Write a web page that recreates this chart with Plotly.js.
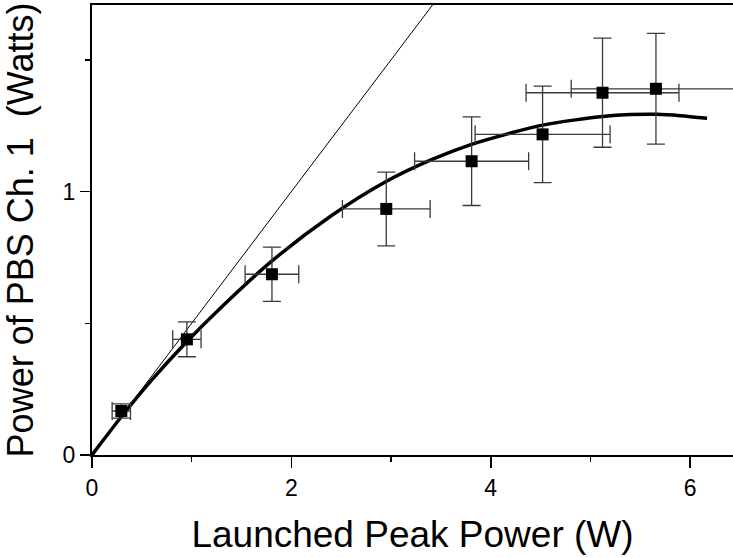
<!DOCTYPE html>
<html>
<head>
<meta charset="utf-8">
<script src="https://cdn.plot.ly/plotly-3.0.1.min.js"></script>
<style>html,body{margin:0;padding:0;background:#fff;}#chart{width:733px;height:558px;}</style>
</head>
<body>
<div id="chart"></div>
<script>
// Measured points
const launchedPower = [0.294, 0.952, 1.805, 2.952, 3.808, 4.52, 5.121, 5.657];
const pbsPower      = [0.167, 0.439, 0.686, 0.934, 1.115, 1.217, 1.375, 1.39];
const errLaunched   = [0.092, 0.142, 0.269, 0.44, 0.572, 0.677, 0.767, 0.85];
const errPbs        = [0.027, 0.066, 0.103, 0.14, 0.168, 0.183, 0.207, 0.21];

// Fit curve
const fitX = [0, 0.3, 0.6, 0.95, 1.3, 1.8, 2.4, 2.95, 3.4, 3.8, 4.2, 4.52, 4.85, 5.12, 5.4, 5.66, 5.9, 6.17];
const fitY = [0, 0.148, 0.285, 0.43, 0.562, 0.735, 0.908, 1.038, 1.12, 1.178, 1.222, 1.252, 1.272, 1.285, 1.292, 1.293, 1.288, 1.278];

// Linear reference line (slope 0.5)
const linX = [0, 3.6];
const linY = [0, 1.8];

// Tick labels
const xTicks = [0, 2, 4, 6];
const xTickText = ['0', '2', '4', '6'];
const xMinor = [1, 3, 5];
const yTicks = [0, 1];
const yTickText = ['0', '1'];
const yMinor = [0.5, 1.5];

const FONT = 'Liberation Sans, Arial, Helvetica, sans-serif';

const traces = [
  {x: linX, y: linY, mode: 'lines', line: {color: '#000', width: 1}, hoverinfo: 'skip'},
  {x: fitX, y: fitY, mode: 'lines', line: {color: '#000', width: 3.5, shape: 'spline', smoothing: 0.8}},
  {x: launchedPower, y: pbsPower, mode: 'markers',
   marker: {symbol: 'square', size: 12, color: '#000'},
   error_x: {type: 'data', array: errLaunched, visible: true, color: '#3a3a3a', thickness: 1.3, width: 9},
   error_y: {type: 'data', array: errPbs, visible: true, color: '#3a3a3a', thickness: 1.3, width: 9}}
];

const layout = {
  width: 733, height: 558,
  margin: {l: 92, r: 0, t: 5, b: 103},
  paper_bgcolor: '#fff', plot_bgcolor: '#fff',
  showlegend: false,
  font: {family: FONT, color: '#000'},
  xaxis: {
    range: [0, 6.43], showgrid: false, zeroline: false,
    showline: true, linecolor: '#000', linewidth: 2, mirror: true,
    ticks: 'outside', ticklen: 11, tickwidth: 1.5, tickcolor: '#000',
    tickvals: xTicks, ticktext: xTickText,
    minor: {tickvals: xMinor, ticks: 'outside', ticklen: 5, tickwidth: 1.5, tickcolor: '#000'},
    tickfont: {size: 23, family: FONT},
    title: {text: 'Launched Peak Power (W)', font: {size: 37, family: FONT}, standoff: 22}
  },
  yaxis: {
    range: [0, 1.708], showgrid: false, zeroline: false,
    showline: true, linecolor: '#000', linewidth: 2, mirror: false,
    ticks: 'outside', ticklen: 10, tickwidth: 1.5, tickcolor: '#000',
    tickvals: yTicks, ticktext: yTickText,
    minor: {tickvals: yMinor, ticks: 'outside', ticklen: 5, tickwidth: 1.5, tickcolor: '#000'},
    tickfont: {size: 23, family: FONT},
    title: {text: 'Power of PBS Ch. 1\u00a0 (Watts)', font: {size: 36, family: FONT}, standoff: 21}
  }
};

Plotly.newPlot('chart', traces, layout, {displayModeBar: false, staticPlot: true});
</script>
</body>
</html>
